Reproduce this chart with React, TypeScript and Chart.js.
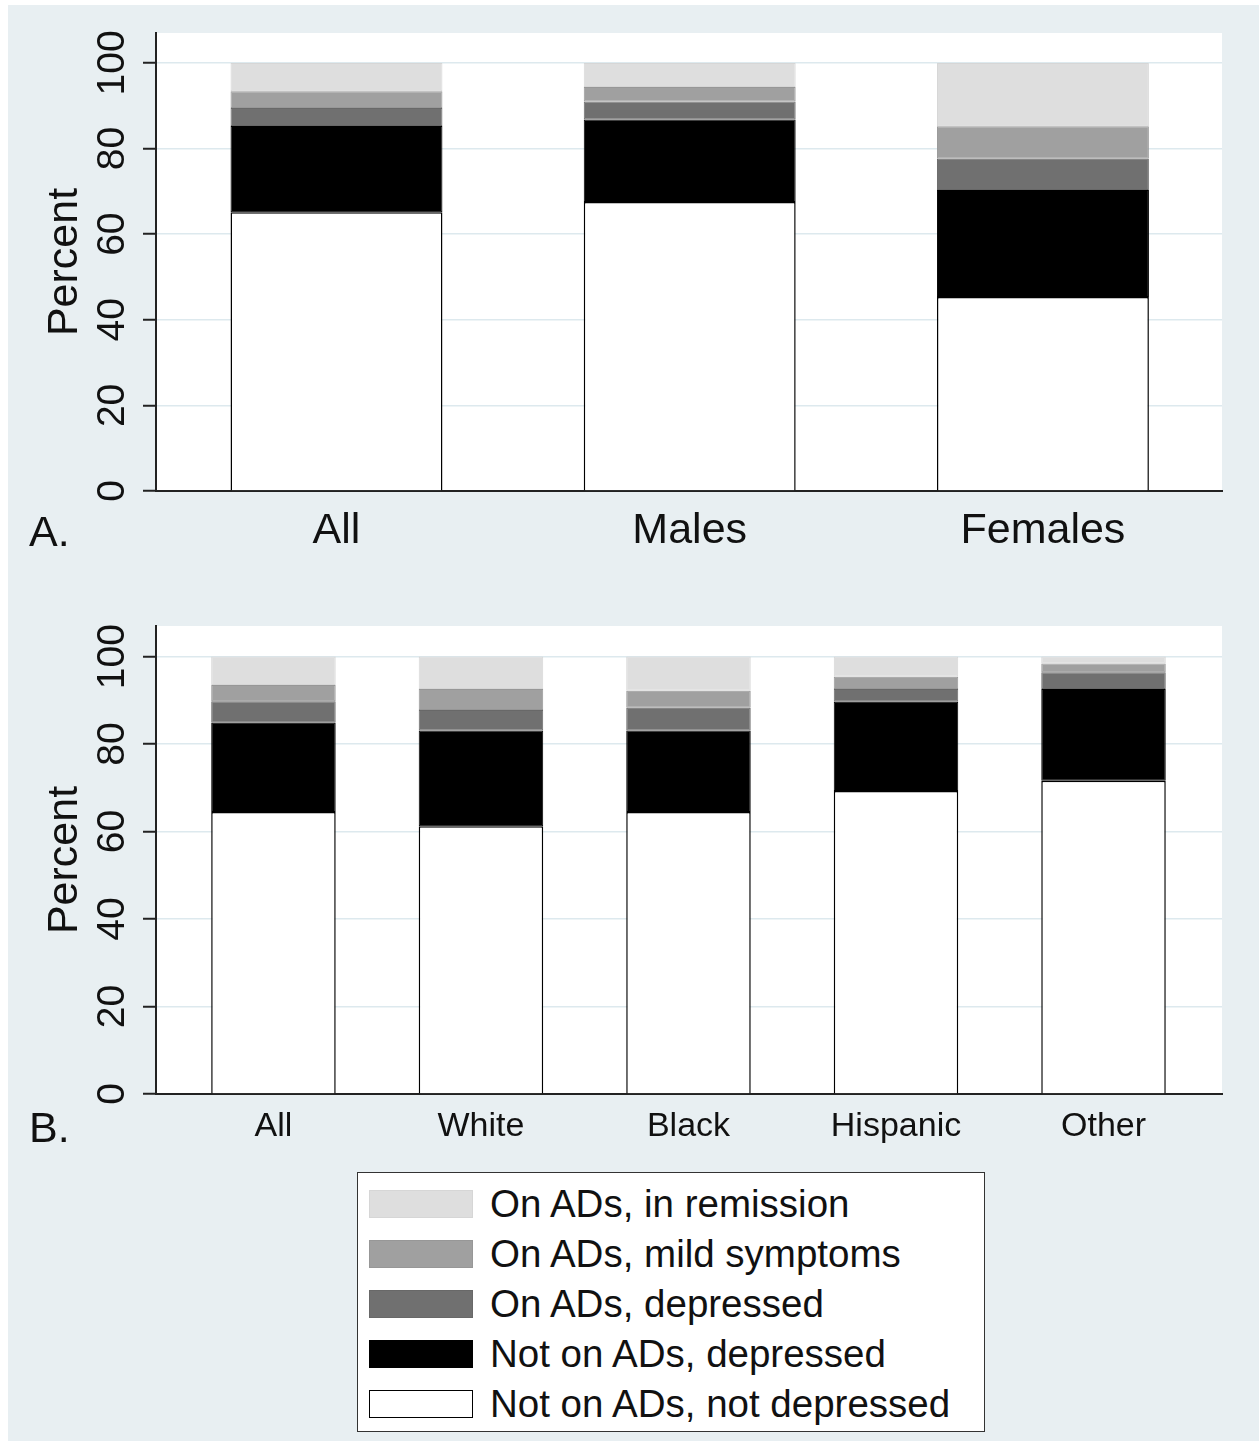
import React, { useEffect, useRef } from "react";
import { Chart, registerables } from "chart.js";
Chart.register(...registerables);

// Series (bottom to top of each stacked bar)
const seriesLabels = [
  "Not on ADs, not depressed",
  "Not on ADs, depressed",
  "On ADs, depressed",
  "On ADs, mild symptoms",
  "On ADs, in remission",
];
const seriesColors = ["#ffffff", "#000000", "#707070", "#a0a0a0", "#dedede"];
const seriesBorders = ["#000000", "#000000", "#686868", "#979797", "#d6d6d6"];

// Panel A
const catsA = ["All", "Males", "Females"];
const notOnNotDepA = [65.1, 67.5, 45.3];
const notOnDepA = [20.2, 19.3, 25.0];
const onDepA = [4.2, 4.2, 7.3];
const onMildA = [3.9, 3.4, 7.6];
const onRemA = [6.6, 5.6, 14.8];

// Panel B
const catsB = ["All", "White", "Black", "Hispanic", "Other"];
const notOnNotDepB = [64.5, 61.2, 64.5, 69.3, 71.6];
const notOnDepB = [20.4, 21.9, 18.6, 20.4, 21.0];
const onDepB = [4.9, 4.7, 5.2, 2.9, 3.8];
const onMildB = [3.7, 4.8, 3.9, 2.8, 2.0];
const onRemB = [6.5, 7.4, 7.8, 4.6, 1.6];

const yTicks = [0, 20, 40, 60, 80, 100];
const yAxisTitle = "Percent";

const FONT = "'Liberation Sans', Arial, sans-serif";
const BG = "#e8eff2";

type PanelCfg = {
  cats: string[];
  series: number[][];
  xMin: number;
  xMax: number;
  padTop: number;
  xAxisHeight: number;
  xFontSize: number;
  xPad: number;
};

const plotBg = {
  id: "plotBg",
  beforeDraw(chart: any) {
    const { ctx, chartArea } = chart;
    ctx.save();
    ctx.fillStyle = "#ffffff";
    ctx.fillRect(chartArea.left, chartArea.top, chartArea.right - chartArea.left, chartArea.bottom - chartArea.top);
    ctx.restore();
  },
};

function StackedPanel({ cfg, height }: { cfg: PanelCfg; height: number }) {
  const ref = useRef<HTMLCanvasElement | null>(null);
  useEffect(() => {
    if (!ref.current) return;
    const datasets = cfg.series.map((vals, si) => ({
      label: seriesLabels[si],
      data: vals.map((v, i) => ({ x: i, y: v })),
      backgroundColor: seriesColors[si],
      borderColor: seriesBorders[si],
      borderWidth: si === 0 ? 1.5 : 1,
      borderSkipped: si === 0 ? "bottom" : false,
      barPercentage: 0.6,
      categoryPercentage: 1,
    }));
    const chart = new Chart(ref.current, {
      type: "bar",
      data: { datasets: datasets as any },
      plugins: [plotBg],
      options: {
        animation: false,
        responsive: false,
        maintainAspectRatio: false,
        devicePixelRatio: 1,
        layout: { padding: { top: cfg.padTop, right: 37, left: 0, bottom: 0 } },
        plugins: { legend: { display: false }, tooltip: { enabled: false } },
        scales: {
          x: {
            type: "linear",
            stacked: true,
            offset: false,
            min: cfg.xMin,
            max: cfg.xMax,
            grid: { display: false, drawTicks: false, offset: false },
            border: { display: true, color: "#222", width: 2 },
            afterBuildTicks: (axis: any) => {
              axis.ticks = cfg.cats.map((_, i) => ({ value: i }));
            },
            afterFit: (scale: any) => {
              scale.height = cfg.xAxisHeight;
            },
            ticks: {
              autoSkip: false,
              maxRotation: 0,
              minRotation: 0,
              padding: cfg.xPad,
              color: "#111",
              font: { family: FONT, size: cfg.xFontSize, lineHeight: 1.2 },
              callback: (v: any) => cfg.cats[Math.round(Number(v))] ?? "",
            },
          },
          y: {
            type: "linear",
            stacked: true,
            min: 0,
            max: 107,
            afterBuildTicks: (axis: any) => {
              axis.ticks = yTicks.map((v) => ({ value: v }));
            },
            afterFit: (scale: any) => {
              scale.width = 156;
            },
            grid: {
              color: "#dde9ee",
              lineWidth: 1.5,
              drawTicks: true,
              tickLength: 13,
              tickColor: "#222",
              tickWidth: 2,
            },
            border: { display: true, color: "#222", width: 2 },
            ticks: {
              minRotation: 90,
              maxRotation: 90,
              crossAlign: "center",
              padding: -3,
              color: "#111",
              font: { family: FONT, size: 39, lineHeight: 1.2 },
            },
            title: {
              display: true,
              text: yAxisTitle,
              color: "#111",
              font: { family: FONT, size: 43, lineHeight: 1 },
              padding: { top: 44, bottom: 0 },
            },
          },
        },
      } as any,
    });
    return () => chart.destroy();
  }, [cfg]);
  return <canvas ref={ref} width={1259} height={height} style={{ display: "block", width: 1259, height }} />;
}

const panelA: PanelCfg = {
  cats: catsA,
  series: [notOnNotDepA, notOnDepA, onDepA, onMildA, onRemA],
  xMin: -0.511,
  xMax: 2.507,
  padTop: 33,
  xAxisHeight: 79,
  xFontSize: 43,
  xPad: 14,
};

const panelB: PanelCfg = {
  cats: catsB,
  series: [notOnNotDepB, notOnDepB, onDepB, onMildB, onRemB],
  xMin: -0.566,
  xMax: 4.571,
  padTop: 66,
  xAxisHeight: 66,
  xFontSize: 34,
  xPad: 12,
};

export default function App() {
  useEffect(() => {
    document.body.style.margin = "0";
    document.body.style.background = "#ffffff";
  }, []);
  const legendItems = seriesLabels.map((l, i) => ({ l, i })).reverse();
  return (
    <div style={{ position: "relative", width: 1259, height: 1441, background: "#ffffff", overflow: "hidden" }}>
      <div style={{ position: "absolute", left: 8, top: 5, right: 0, bottom: 0, background: BG }} />
      <div style={{ position: "absolute", left: 0, top: 0 }}>
        <StackedPanel cfg={panelA} height={570} />
      </div>
      <div style={{ position: "absolute", left: 0, top: 560 }}>
        <StackedPanel cfg={panelB} height={600} />
      </div>
      <div style={{ position: "absolute", left: 29, top: 505, fontFamily: FONT, fontSize: 43, lineHeight: "52px", color: "#111" }}>A.</div>
      <div style={{ position: "absolute", left: 29, top: 1101, fontFamily: FONT, fontSize: 43, lineHeight: "52px", color: "#111" }}>B.</div>
      <div
        style={{
          position: "absolute",
          left: 357,
          top: 1172,
          width: 628,
          height: 260,
          boxSizing: "border-box",
          border: "1.5px solid #333",
          background: "#ffffff",
          paddingTop: 6,
        }}
      >
        {legendItems.map(({ l, i }) => (
          <div key={l} style={{ display: "flex", alignItems: "center", height: 50 }}>
            <div
              style={{
                marginLeft: 11,
                width: 104,
                height: 28,
                boxSizing: "border-box",
                background: seriesColors[i],
                border: i === 0 ? "1.5px solid #000" : `1px solid ${seriesBorders[i]}`,
              }}
            />
            <div style={{ marginLeft: 17, fontFamily: FONT, fontSize: 38.5, color: "#111", whiteSpace: "nowrap" }}>{l}</div>
          </div>
        ))}
      </div>
    </div>
  );
}
